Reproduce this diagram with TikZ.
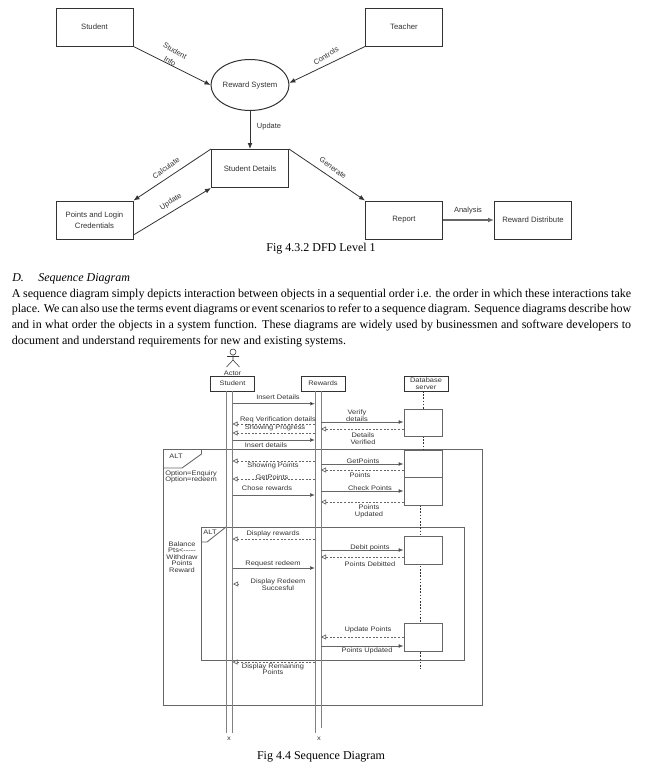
\documentclass[tikz,border=0pt]{standalone}
\usepackage{fontspec}
\setmainfont{Liberation Serif}
\setsansfont{Liberation Sans}
\newfontfamily\seqfont[FakeStretch=1.14]{Liberation Sans}
\usetikzlibrary{arrows.meta,shapes.geometric}
\definecolor{ink}{HTML}{333333}
\definecolor{midg}{HTML}{666666}
\definecolor{lifeg}{HTML}{808080}
\newcommand{\solidmsg}[3]{\draw[solidmsgline] (#1 |- 0,#3) -- (#2 |- 0,#3);}
\newcommand{\dashmsg}[3]{\draw[dashmsgline] (#1 |- 0,#3) -- (#2 |- 0,#3);}
\tikzset{
  x=0.75pt,y=-0.75pt,
  dfdbox/.style={draw=ink,line width=0.75pt,minimum width=57.75pt,minimum height=28.5pt,inner sep=0pt,align=center,font=\sffamily\fontsize{5.8}{8}\selectfont,text=ink},
  dfdell/.style={draw=ink,line width=0.75pt,ellipse,minimum width=58.5pt,minimum height=38.25pt,inner sep=0pt,font=\sffamily\fontsize{5.8}{8}\selectfont,text=ink},
  dfdflow/.style={draw=ink,line width=0.6pt,-{Latex[length=4.5pt,width=3.6pt]}},
  dfdlab/.style={font=\sffamily\fontsize{5.6}{7}\selectfont,text=ink,inner sep=0pt,align=center},
  captext/.style={font=\fontsize{9}{11}\selectfont,text=black,inner sep=0pt},
  sqbox/.style={draw=ink,line width=0.5pt,minimum width=33pt,minimum height=11.25pt,inner sep=0pt,align=center,font=\seqfont\fontsize{4.9}{5}\selectfont,text=ink},
  actbox/.style={draw=midg,fill=white,line width=0.7pt,minimum width=28.5pt,inner sep=0pt},
  sqlab/.style={font=\seqfont\fontsize{4.9}{4.9}\selectfont,text=ink,inner sep=0pt,align=center},
  lifeline/.style={draw=lifeg,line width=0.75pt},
  frameline/.style={draw=midg,line width=0.65pt},
  solidmsgline/.style={draw=midg,line width=0.5pt,-{Latex[length=3.6pt,width=2.8pt,fill=black]}},
  dashmsgline/.style={draw=midg,line width=0.5pt,dash pattern=on 1.5pt off 1.2pt,-{Triangle[open,length=3.8pt,width=3.8pt]}},
}
\begin{document}
\begin{tikzpicture}
\path[use as bounding box,fill=white] (0,0) rectangle (658,771);
% DFD
\node[dfdbox] (stud) at (94.5,27) {Student};
\node[dfdbox] (teach) at (404,27) {Teacher};
\node[dfdell] (rs) at (250,85) {Reward System};
\node[dfdbox] (det) at (250,168.5) {Student Details};
\node[dfdbox] (pts) at (94.5,220) {Points and Login\\Credentials};
\node[dfdbox] (rep) at (404,220) {Report};
\node[dfdbox] (dist) at (533,220) {Reward Distribute};
\draw[dfdflow] (stud.south east) -- (rs.west);
\draw[dfdflow] (teach.south west) -- (rs.3);
\draw[dfdflow] (rs.south) -- (det.north);
\draw[dfdflow] (det.north west) -- (pts.north east);
\draw[dfdflow] (pts.-21) -- (det.south west);
\draw[dfdflow] (det.north east) -- (rep.north west);
\draw[dfdflow,draw=midg,line width=1pt] (rep.east) -- (dist.west);
\node[dfdlab,rotate=-30] (l1) at (175,51) {Student};
\node[dfdlab,rotate=-30] (l2) at (170,61) {Info};
\node[dfdlab,rotate=32] (l3) at (326,56) {Controls};
\node[dfdlab] (l4) at (269,127) {Update};
\node[dfdlab,rotate=36] (l5) at (166,168) {Calculate};
\node[dfdlab,rotate=33] (l6) at (171,202) {Update};
\node[dfdlab,rotate=-36] (l7) at (333,168) {Generate};
\node[dfdlab] (l8) at (468,211) {Analysis};
\node[captext] (c1) at (321,248.5) {Fig 4.3.2 DFD Level 1};
% Text
\node[captext,anchor=base west] (h) at (12,281) {\itshape D.\hspace{1.2em}Sequence Diagram};
\node[inner sep=0pt,anchor=north west,text width=464.5pt,align=justify,font=\fontsize{9}{11.8}\selectfont] (body) at (11.5,288.5) {A sequence diagram simply depicts interaction between objects in a sequential order i.e. the order in which these interactions take\linebreak place. We can also use the terms event diagrams or event scenarios to refer to a sequence diagram. Sequence diagrams describe how\linebreak and in what order the objects in a system function. These diagrams are widely used by businessmen and software developers to\linebreak document and understand requirements for new and existing systems.};
% Actor
\node[circle,draw=ink,line width=0.4pt,minimum size=4.5pt,inner sep=0pt] (head) at (233,352) {};
\coordinate (hip) at (233,360);
\coordinate (lfoot) at (226.5,367);
\coordinate (rfoot) at (239.5,367);
\coordinate (larm) at (227,356.5);
\coordinate (rarm) at (239,356.5);
\draw[draw=ink,line width=0.4pt] (head.south) -- (hip) (lfoot) -- (hip) -- (rfoot) (larm) -- (rarm);
\node[sqlab] (actor) at (232.5,373) {Actor};
% Lifelines
\node[sqbox] (sb) at (232.5,383.5) {Student};
\node[sqbox] (rb) at (323,383.5) {Rewards};
\node[sqbox] (db) at (426,383.5) {Database\\server};
\coordinate (a) at (226.5,391); \coordinate (a1) at (226.5,733);
\coordinate (b) at (232.5,391); \coordinate (b1) at (232.5,733);
\coordinate (c) at (315,391); \coordinate (c1x) at (315,733);
\coordinate (d) at (321,391); \coordinate (d1) at (321,728);
% outer frame
\coordinate (f1) at (163,449); \coordinate (f2) at (482,705);
\draw[frameline] (f1) rectangle (f2);
\coordinate (t1) at (201.5,449); \coordinate (t2) at (201.5,454); \coordinate (t3) at (182,468); \coordinate (t4) at (163,468);
\draw[frameline] (t1) -- (t2) -- (t3) -- (t4);
\coordinate (g1) at (201,527); \coordinate (g2) at (464,660);
\draw[frameline] (g1) rectangle (g2);
\coordinate (u1) at (226,527); \coordinate (u2) at (207,542); \coordinate (u3) at (201,542);
\draw[frameline] (u1) -- (u2) -- (u3);
\draw[lifeline] (a) -- (a1) (b) -- (b1) (c) -- (c1x) (d) -- (d1);
% DB dotted
\coordinate (z1) at (420,505); \coordinate (z2) at (420,669);
\coordinate (y1) at (423,391); \coordinate (y2) at (423,409);
\coordinate (y3) at (423,436); \coordinate (y4) at (423,450);
\draw[draw=ink,line width=0.5pt,dash pattern=on 1.2pt off 1.2pt] (y1) -- (y2) (y3) -- (y4) (z1) -- (z2);
% activations
\node[actbox,minimum height=20.25pt] (v1) at (423,422.5) {};
\node[actbox,minimum height=20.25pt] (v2) at (423,463.5) {};
\node[actbox,minimum height=21pt] (v3) at (423,491) {};
\node[actbox,minimum height=21pt] (v4) at (423,550) {};
\node[actbox,minimum height=21pt] (v5) at (423,637) {};
% messages
\solidmsg{b}{c}{403.7}
\solidmsg{d}{v1.west}{422}
\dashmsg{c}{b}{424}
\dashmsg{v1.west}{d}{429}
\dashmsg{c}{b}{433}
\solidmsg{b}{c}{440}
\dashmsg{c}{b}{461}
\solidmsg{d}{v2.west}{464}
\dashmsg{v2.west}{d}{470}
\dashmsg{c}{b}{479}
\solidmsg{d}{v3.west}{491}
\solidmsg{b}{c}{495}
\dashmsg{v3.west}{d}{502}
\dashmsg{c}{b}{539}
\solidmsg{d}{v4.west}{550}
\dashmsg{v4.west}{d}{557}
\solidmsg{b}{c}{568}
\coordinate (m1) at (238,584); \coordinate (m2) at (233,584);
\draw[draw=midg,line width=0.5pt,-{Triangle[open,length=3.8pt,width=3.8pt]}] (m1) -- (m2);
\dashmsg{v5.west}{d}{637}
\solidmsg{d}{v5.west}{646}
\dashmsg{c}{b}{662}
% labels
\node[sqlab] (t01) at (278,397) {Insert Details};
\node[sqlab] (t02) at (357,415.5) {Verify\\details};
\node[sqlab] (t03) at (278,420) {Req Verification details};
\node[sqlab] (t04) at (275,428) {Showing Progress};
\node[sqlab] (t05) at (363,438.5) {Details\\Verified};
\node[sqlab] (t06) at (266,445) {Insert details};
\node[sqlab] (t07) at (273,466) {Showing Points};
\node[sqlab] (t08) at (363,461) {GetPoints};
\node[sqlab] (t09) at (360,475) {Points};
\node[sqlab] (t10) at (272,477) {GetPoints};
\node[sqlab] (t11) at (267,488) {Chose rewards};
\node[sqlab] (t12) at (370,488) {Check Points};
\node[sqlab] (t13) at (369,511.5) {Points\\Updated};
\node[sqlab] (t14) at (176,456) {ALT};
\node[sqlab,anchor=west,align=left] (t15) at (165,477) {Option=Enquiry\\Option=redeem};
\node[sqlab] (t16) at (210,532) {ALT};
\node[sqlab] (t17) at (273,534) {Display rewards};
\node[sqlab] (t18) at (370,548) {Debit points};
\node[sqlab] (t19) at (370,564) {Points Debitted};
\node[sqlab] (t20) at (273,564) {Request redeem};
\node[sqlab] (t21) at (278,584.5) {Display Redeem\\Succesful};
\node[sqlab] (t22) at (368,630) {Update Points};
\node[sqlab] (t23) at (367,651) {Points Updated};
\node[sqlab] (t24) at (273,669) {Display Remaining\\Points};
\node[sqlab] (t25) at (182,557) {Balance\\Pts<-----\\Withdraw\\Points\\Reward};
\node[sqlab] (x1) at (229,739) {x};
\node[sqlab] (x2) at (319,739) {x};
\node[captext] (c2) at (321,757) {Fig 4.4 Sequence Diagram};
\end{tikzpicture}
\end{document}
